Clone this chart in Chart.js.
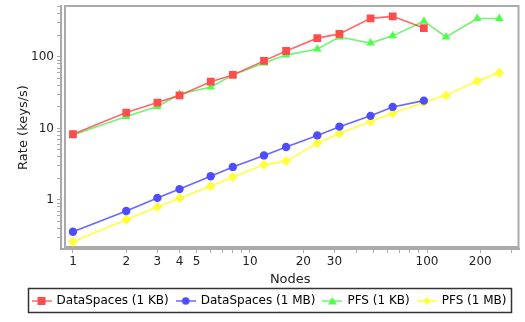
<!DOCTYPE html>
<html><head><meta charset="utf-8">
<script src="https://cdn.jsdelivr.net/npm/chart.js@4/dist/chart.umd.min.js"></script>
<style>html,body{margin:0;padding:0;background:#fff}#wrap{width:525px;height:322px}</style>
</head><body><div id="wrap"><canvas id="c" width="525" height="322"></canvas></div>
<script>
const nodes = [1,2,3,4,6,8,12,16,24,32,48,64,96,128,192,256];
const dsKB = [8.3,16.7,23,29,45,56,88,121,183,210,346,369,253];
const dsMB = [0.36,0.70,1.07,1.42,2.15,2.9,4.2,5.5,8.0,10.6,15,20,24.5];
const pfsKB = [8.1,14.7,20.3,30,38,56,82,106,129,190,156,197,316,190,345,345];
const pfsMB = [0.26,0.53,0.80,1.06,1.56,2.1,3.1,3.5,6.2,8.5,12.5,16.3,23,29,46,60];
const seriesNames = ['DataSpaces (1 KB)','DataSpaces (1 MB)','PFS (1 KB)','PFS (1 MB)'];
const xTickValues = [1,2,3,4,5,6,7,8,9,10,20,30,40,50,60,70,80,90,100,200,300];
const xTickLabels = [1,2,3,4,5,10,20,30,100,200];
const yTickValues = [0.3,0.4,0.5,0.6,0.7,0.8,0.9,1,2,3,4,5,6,7,8,9,10,20,30,40,50,60,70,80,90,100,200,300,400,500];
const yTickLabels = [1,10,100];

const colors = ['#ff4d4d','#4d4dff','#4dff4d','#ffff3a'];
const lineColors = ['rgba(255,77,77,0.85)','rgba(77,77,255,0.85)','rgba(90,240,90,0.85)','rgba(255,255,40,0.9)'];
const styles = ['rect','circle','triangle','rectRot'];
const radii = [5.5,4.2,5,5];
const values = [dsKB, dsMB, pfsKB, pfsMB];

function toPts(arr){ return arr.map((v,i)=>({x:nodes[i], y:v})); }

function markerCanvas(i){
  const c = document.createElement('canvas');
  c.width = 20; c.height = 12;
  const g = c.getContext('2d');
  g.strokeStyle = lineColors[i]; g.lineWidth = 1.5;
  g.beginPath(); g.moveTo(0,6); g.lineTo(20,6); g.stroke();
  g.fillStyle = colors[i];
  g.beginPath();
  if (i===0){ g.rect(6,2,8,8); }
  else if (i===1){ g.arc(10,6,3.8,0,Math.PI*2); }
  else if (i===2){ g.moveTo(10,2); g.lineTo(14.5,9.5); g.lineTo(5.5,9.5); g.closePath(); }
  else { g.moveTo(10,2); g.lineTo(14,6); g.lineTo(10,10); g.lineTo(6,6); g.closePath(); }
  g.fill();
  return c;
}
const markers = [0,1,2,3].map(markerCanvas);

const datasets = values.map((arr,i)=>({
  label: seriesNames[i],
  data: toPts(arr),
  borderColor: lineColors[i],
  backgroundColor: colors[i],
  pointBackgroundColor: colors[i],
  pointBorderColor: colors[i],
  pointBorderWidth: 0,
  pointStyle: styles[i],
  pointRadius: radii[i],
  borderWidth: 1.6,
  tension: 0,
  order: i===0 ? 0 : (i===2 ? 1 : (i===1 ? 2 : 3))
}));

const framePlugin = {
  id: 'frame',
  beforeDatasetsDraw(chart){
    const a = chart.chartArea, ctx = chart.ctx;
    ctx.save();
    ctx.strokeStyle = '#aaaaaa'; ctx.lineWidth = 2;
    ctx.strokeRect(a.left+4, a.top, a.right-a.left-5, a.bottom-a.top-2);
    ctx.restore();
  },
  afterDraw(chart){
    const lg = chart.legend;
    if (!lg || !lg.legendHitBoxes || !lg.legendHitBoxes.length) return;
    const hb = lg.legendHitBoxes;
    let l = Infinity, r = -Infinity, t = Infinity, b = -Infinity;
    hb.forEach(h=>{ l=Math.min(l,h.left); r=Math.max(r,h.left+h.width); t=Math.min(t,h.top); b=Math.max(b,h.top+h.height); });
    const ctx = chart.ctx;
    ctx.save();
    ctx.strokeStyle = '#333'; ctx.lineWidth = 1.5;
    ctx.strokeRect(Math.round(l)-4.5, Math.round(t)-6.5, Math.round(r-l)+9, Math.round(b-t)+12);
    ctx.restore();
  }
};

new Chart(document.getElementById('c'), {
  type: 'line',
  data: { datasets },
  options: {
    responsive: false,
    animation: false,
    devicePixelRatio: 1,
    layout: { padding: { left: 16, right: 2, top: 6, bottom: 5 } },
    plugins: {
      tooltip: { enabled: false },
      legend: {
        position: 'bottom',
        labels: {
          usePointStyle: true,
          pointStyleWidth: 18,
          boxHeight: 12,
          padding: 8,
          color: '#444',
          font: { family: 'DejaVu Sans', size: 12 },
          sort: (a,b)=>a.datasetIndex-b.datasetIndex,
          generateLabels(chart){
            return chart.data.datasets.map((d,i)=>({
              text: d.label, datasetIndex: i, pointStyle: markers[i],
              fillStyle: colors[i], strokeStyle: colors[i], lineWidth: 0, hidden: false
            }));
          }
        }
      }
    },
    scales: {
      x: {
        type: 'logarithmic',
        min: 0.856, max: 333,
        afterFit(s){ s.height = 38; s.paddingLeft = 0; s.paddingRight = 0; },
        afterBuildTicks(s){ s.ticks = xTickValues.map(v=>({value:v})); },
        border: { display: true, color: '#aaaaaa', width: 2 },
        grid: { display: true, drawOnChartArea: false, drawTicks: true, tickLength: 4, color: '#aaaaaa', lineWidth: 1 },
        ticks: {
          autoSkip: false, maxRotation: 0, padding: 2, color: '#222',
          font: { family: 'DejaVu Sans', size: 12 },
          callback: (v)=> xTickLabels.includes(v) ? String(v) : ''
        },
        title: { display: true, text: 'Nodes', color: '#222', font: { family: 'DejaVu Sans', size: 13 }, padding: { top: 0, bottom: 0 } }
      },
      y: {
        type: 'logarithmic',
        min: 0.2065, max: 515,
        afterFit(s){ s.width = 45; s.paddingTop = 0; s.paddingBottom = 0; },
        afterBuildTicks(s){ s.ticks = yTickValues.map(v=>({value:v})); },
        border: { display: true, color: '#aaaaaa', width: 2 },
        grid: { display: true, drawOnChartArea: false, drawTicks: true, tickLength: 4, color: '#aaaaaa', lineWidth: 1 },
        ticks: {
          autoSkip: false, padding: 3, color: '#222',
          font: { family: 'DejaVu Sans', size: 12 },
          callback: (v)=> yTickLabels.includes(v) ? String(v) : ''
        },
        title: { display: true, text: 'Rate (keys/s)', color: '#222', font: { family: 'DejaVu Sans', size: 13 }, padding: { top: 0, bottom: 4 } }
      }
    }
  },
  plugins: [framePlugin]
});
</script></body></html>
